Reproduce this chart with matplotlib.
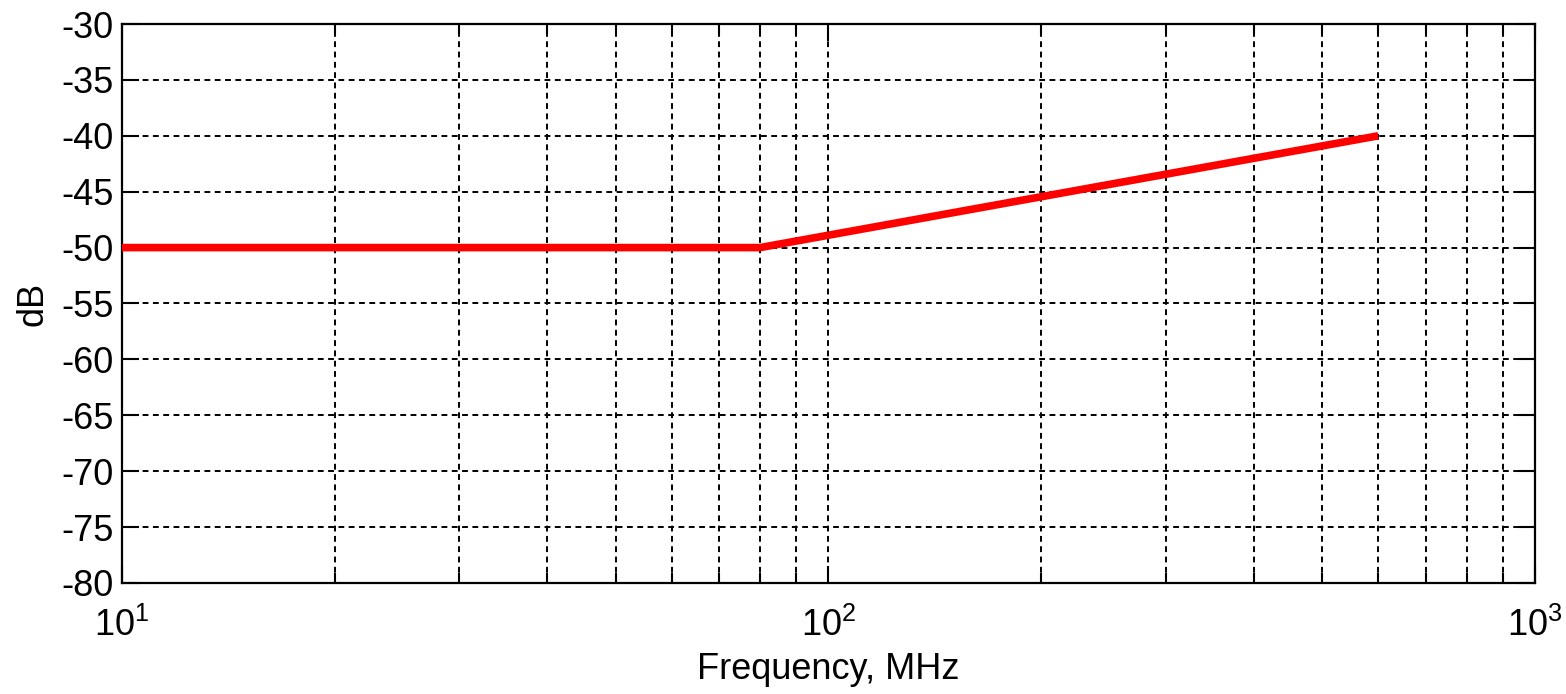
import numpy as np
import matplotlib
matplotlib.use("Agg")
import matplotlib.pyplot as plt

# Data
freq_mhz = [10, 80, 600]
level_db = [-50, -50, -40]

x_range = [10, 1000]
y_range = [-80, -30]
y_ticks = np.arange(-80, -29, 5)

plt.rcParams['font.family'] = ['Liberation Sans', 'DejaVu Sans']
plt.rcParams['mathtext.default'] = 'regular'
plt.rcParams['axes.unicode_minus'] = False

fig = plt.figure(figsize=(15.66, 6.94), dpi=100)
ax = fig.add_axes([0.0779, 0.16, 0.9023, 0.8054])

ax.plot(freq_mhz, level_db, color='#ff0000', linewidth=5.5, solid_capstyle='butt', zorder=3)

ax.set_xscale('log')
ax.set_xlim(x_range)
ax.set_ylim(y_range)
ax.set_yticks(y_ticks)

dash = (0, (3, 2.3))
ax.grid(True, which='major', linestyle=dash, color='black', linewidth=1.4)
ax.grid(True, which='minor', axis='x', linestyle=dash, color='black', linewidth=1.4)

ax.tick_params(which='both', direction='in', top=True, right=True,
               labelsize=26, width=1.5)
ax.tick_params(axis='y', pad=6)
ax.tick_params(axis='x', pad=18)
ax.tick_params(which='major', length=12)
ax.tick_params(which='minor', length=7)
for s in ax.spines.values():
    s.set_linewidth(1.6)

ax.set_xlabel('Frequency, MHz', fontsize=26, labelpad=6)
ax.set_ylabel('dB', fontsize=26, labelpad=8)

fig.savefig('out.png', dpi=100)
